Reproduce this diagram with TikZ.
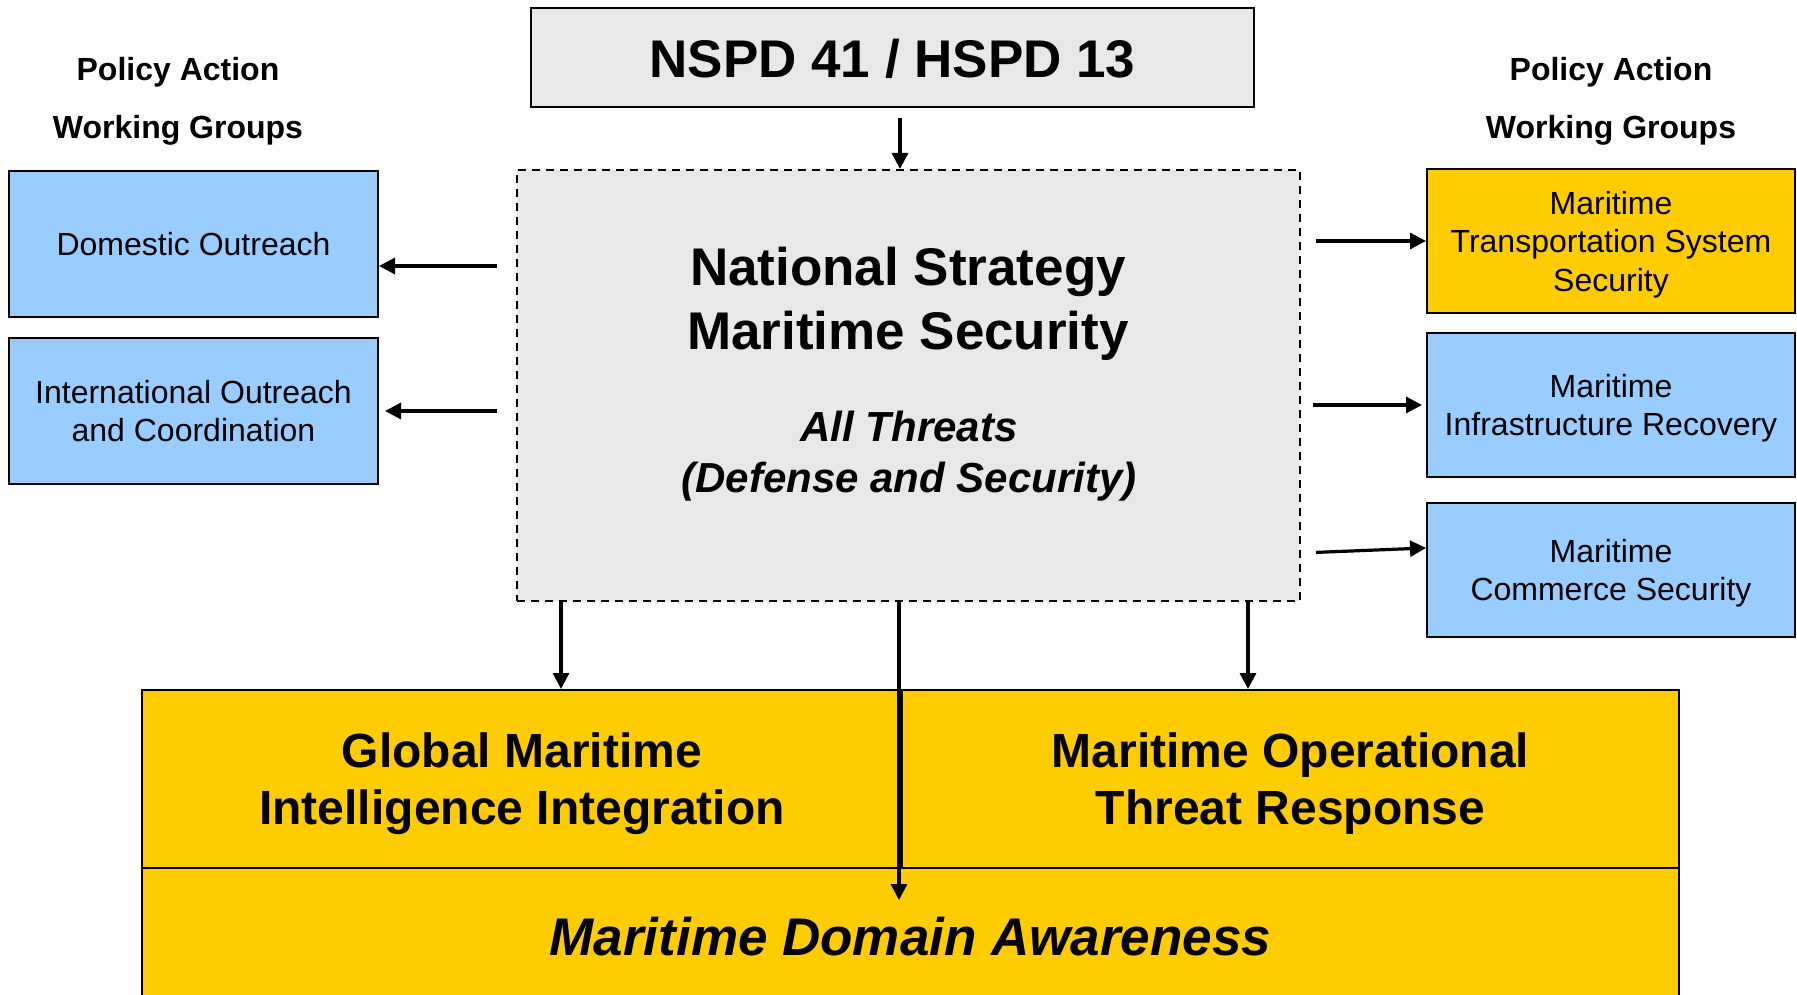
\documentclass[tikz,border=0pt]{standalone}
\usepackage{fontspec}
\setmainfont{Liberation Sans}
\usetikzlibrary{arrows.meta}
\definecolor{wgblue}{HTML}{99CCFF}
\definecolor{wggold}{HTML}{FFCC00}
\definecolor{boxgray}{HTML}{E8E8E8}

\begin{document}
\begin{tikzpicture}[x=1pt,y=-1pt]
	\tikzset{box/.style = {shape=rectangle,draw,line width=2pt,inner sep=0pt,align=center,text depth=0pt}}
	\tikzset{wgbox/.style = {box,fill=wgblue,minimum width=369pt,font=\fontsize{32}{38.5}\selectfont}}
	\tikzset{goldbox/.style = {box,fill=wggold,font=\bfseries\fontsize{48}{57}\selectfont}}
	\tikzset{heading/.style = {align=center,text depth=0pt,font=\bfseries\fontsize{32}{58}\selectfont}}
	\tikzset{edge/.style = {->,> = {Triangle[length=16pt,width=16pt]},line width=3.2pt}}
	\clip (0,0) rectangle (1797,995);
	\node[box,fill=boxgray,minimum width=723pt,minimum height=99pt,font=\bfseries\fontsize{53}{64}\selectfont] (nspd) at (892.5,58) {NSPD 41 / HSPD 13};
	\node[box,dashed,dash pattern=on 8pt off 6pt,fill=boxgray,minimum width=783pt,minimum height=431pt] (ctr) at (908.5,385.5) {};
	\node[align=center,font=\bfseries\fontsize{53}{64}\selectfont] (ctrtitle) at (908,304) {National Strategy\\Maritime Security};
	\node[align=center,font=\bfseries\itshape\fontsize{42}{51}\selectfont] (ctrsub) at (909,456) {All Threats\\(Defense and Security)};
	\node[heading] (headl) at (178,98) {Policy Action\\Working Groups};
	\node[heading] (headr) at (1611,98) {Policy Action\\Working Groups};
	\node[wgbox,minimum height=146pt] (dom) at (193.5,244) {Domestic Outreach};
	\node[wgbox,minimum height=146pt] (intl) at (193.5,411) {International Outreach\\and Coordination};
	\node[wgbox,fill=wggold,minimum width=368pt,minimum height=144pt] (mtss) at (1611,241) {Maritime\\Transportation System\\Security};
	\node[wgbox,minimum width=368pt,minimum height=144pt] (mir) at (1611,405) {Maritime\\Infrastructure Recovery};
	\node[wgbox,minimum width=368pt,minimum height=134pt] (mcs) at (1611,570) {Maritime\\Commerce Security};
	\node[goldbox,minimum width=1537pt,minimum height=136pt,font=\bfseries\itshape\fontsize{53}{64}\selectfont] (mda) at (910.5,936) {Maritime Domain Awareness};
	\node[goldbox,minimum width=760pt,minimum height=178pt] (gmii) at (522,779) {Global Maritime\\Intelligence Integration};
	\node[goldbox,minimum width=777pt,minimum height=178pt] (motr) at (1290.5,779) {Maritime Operational\\Threat Response};
	\coordinate (mdatip) at (899,900);
	%edges
	\draw[edge,shorten <=10pt] ([xshift=7.5pt]nspd.south) -- ([xshift=-8.5pt]ctr.north);
	\draw[edge,shorten <=19pt] ([yshift=119.5pt]ctr.west) -- ([yshift=-22pt]dom.east);
	\draw[edge,shorten <=19pt,shorten >=6pt] (ctr.west |- intl.east) -- (intl.east);
	\draw[edge,shorten <=15pt] (ctr.east |- mtss.west) -- (mtss.west);
	\draw[edge,shorten <=12pt,shorten >=4pt] (ctr.east |- mir.west) -- (mir.west);
	\draw[edge,shorten <=15pt] ([yshift=-167.5pt]ctr.east) -- ([yshift=22pt]mcs.west);
	\draw[edge] ([xshift=-347.5pt]ctr.south) -- ([xshift=39pt]gmii.north);
	\draw[edge] ([xshift=339.5pt]ctr.south) -- ([xshift=-42.5pt]motr.north);
	\draw[edge] ([xshift=-9.5pt]ctr.south) -- (mdatip);
\end{tikzpicture}
\end{document}
